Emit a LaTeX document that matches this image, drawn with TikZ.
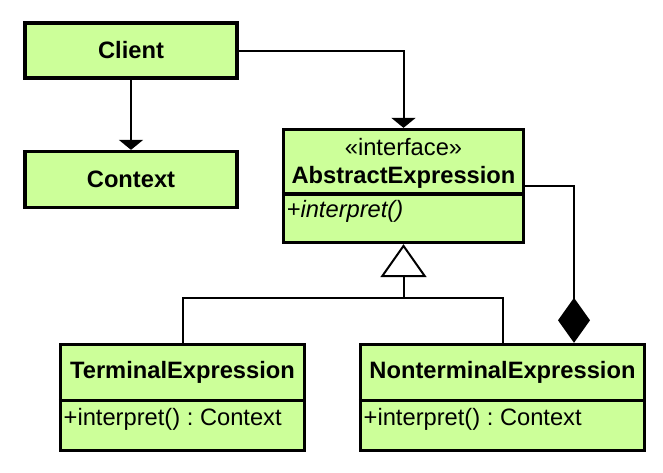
\documentclass[tikz,border=0pt]{standalone}
\usepackage{fontspec}
\setmainfont{Liberation Sans}
\frenchspacing
\usetikzlibrary{arrows.meta}
\definecolor{boxgreen}{RGB}{204,255,153}
\begin{document}
\begin{tikzpicture}[x=1pt,y=-1pt,
  cls/.style={draw=black, line width=3.3pt, fill=boxgreen, inner sep=0pt},
  txt/.style={inner sep=0pt, font=\fontsize{23.7}{28}\selectfont},
  btxt/.style={txt, font=\fontsize{23.7}{28}\selectfont\bfseries},
  conn/.style={draw=black, line width=2pt},
  assoc/.style={conn, -{Triangle[length=10pt,width=24pt]}},
  gen/.style={conn, -{Triangle[open,length=33pt,width=46pt,line width=2pt]}},
  comp/.style={conn, -{Diamond[length=45pt,width=32pt]}},
  divider/.style={draw=black, line width=3.3pt}
]
\useasboundingbox (0,0) rectangle (663,472);

% Client
\node[cls, minimum width=212pt, minimum height=55pt] (client) at (131,50.5) {};
\node[btxt] (clientt) at (client.center) {Client};

% Context
\node[cls, minimum width=212pt, minimum height=56pt] (context) at (131,179.5) {};
\node[btxt] (contextt) at (context.center) {Context};

% AbstractExpression
\node[cls, minimum width=240pt, minimum height=113pt] (ae) at (403.5,186) {};
\node[txt, anchor=base] (aest) at (403.5,155) {«interface»};
\node[btxt, anchor=base] (aename) at (403.5,183.5) {AbstractExpression};
\draw[divider] (ae.west |- 0,194) -- (ae.east |- 0,194);
\node[txt, anchor=base west, font=\fontsize{23.7}{28}\selectfont\itshape] (aeop) at (286.5,217) {+interpret()};

% TerminalExpression
\node[cls, minimum width=244pt, minimum height=106pt] (te) at (182.5,397.5) {};
\node[btxt, anchor=base] (tename) at (182.5,378.5) {TerminalExpression};
\draw[divider] (te.west |- 0,400.5) -- (te.east |- 0,400.5);
\node[txt, anchor=base west] (teop) at (63.5,425.5) {+interpret() : Context};

% NonterminalExpression
\node[cls, minimum width=284pt, minimum height=106pt] (ne) at (502.5,397.5) {};
\node[btxt, anchor=base] (nename) at (502.5,378.5) {NonterminalExpression};
\draw[divider] (ne.west |- 0,400.5) -- (ne.east |- 0,400.5);
\node[txt, anchor=base west] (neop) at (363.5,425.5) {+interpret() : Context};

% connectors
\draw[assoc] (client.south) -- (context.north);
\draw[assoc] (client.east) -| (ae.north);

\coordinate (j) at (403.5,298);
\draw[gen] (j) -- (ae.south);
\draw[conn] (te.north) |- (j) -| (ne.north);

\coordinate (ntop) at (574,342.8);
\draw[comp] (ae.east) -| (ntop);
\end{tikzpicture}
\end{document}
